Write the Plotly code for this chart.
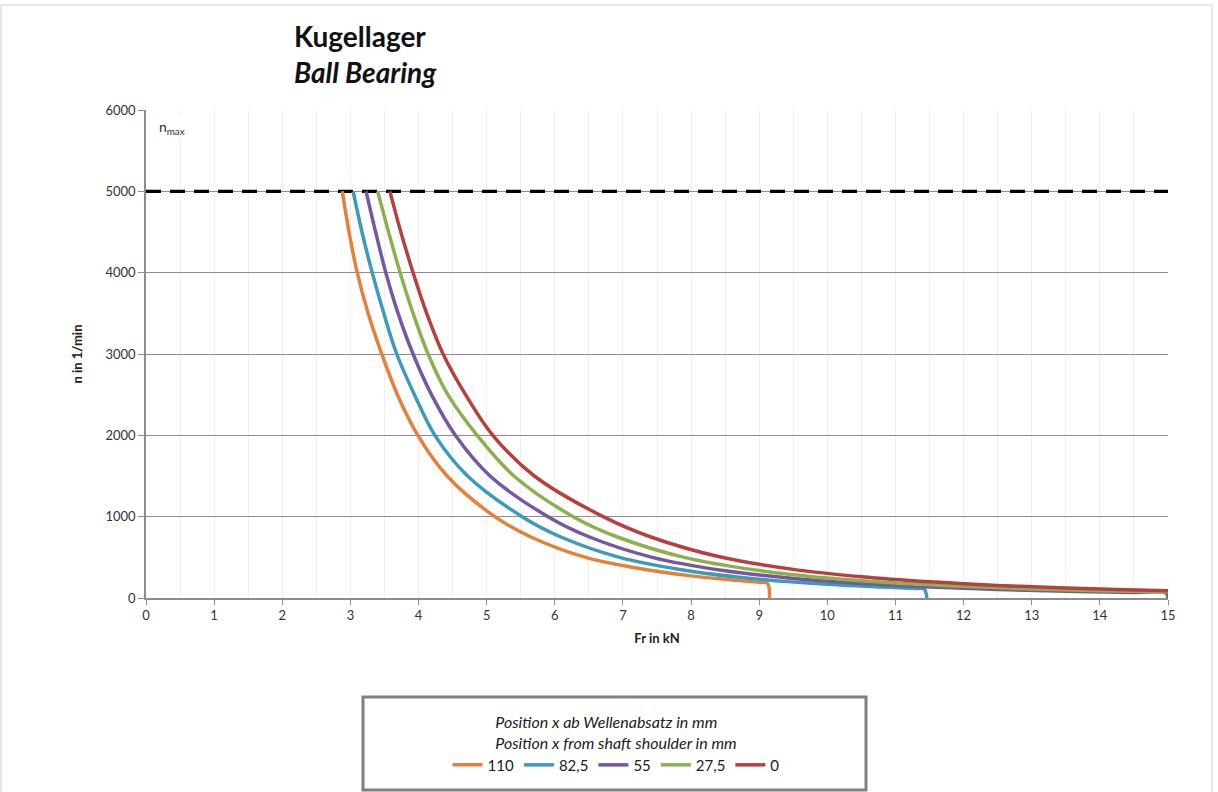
import plotly.graph_objects as go

W, H = 1218, 792
L, R, T, B = 146, 50, 110, 194
PW, PH = W - L - R, H - T - B

def px(x):
    return (x - L) / PW

def py(y):
    return (H - B - y) / PH

# ---- data ----
series_names = ["110", "82,5", "55", "27,5", "0"]
series_colors = ["#E3803A", "#3C9BB8", "#7558A0", "#8DB04F", "#B5413F"]

fr_110 = [2.88, 2.98, 3.10, 3.26, 3.46, 3.69, 3.99, 4.42, 5.12, 5.65, 6.45, 7.20, 8.00, 8.60, 9.00, 9.12, 9.15]
n_110 = [5000, 4500, 4000, 3500, 3000, 2500, 2000, 1500, 1000, 750, 500, 370, 272, 222, 192, 182, 0]

fr_825 = [3.04, 3.17, 3.32, 3.49, 3.68, 3.94, 4.24, 4.72, 5.52, 6.09, 6.95, 8.00, 9.00, 10.00, 10.80, 11.30, 11.42, 11.46]
n_825 = [5000, 4500, 4000, 3500, 3000, 2500, 2000, 1500, 1000, 750, 500, 329, 231, 168, 134, 117, 112, 0]

fr_55 = [3.23, 3.37, 3.52, 3.70, 3.92, 4.19, 4.54, 5.05, 5.90, 6.51, 7.43, 8.50, 9.50, 10.50, 11.50, 12.50, 13.50, 14.50, 14.97, 15.00]
n_55 = [5000, 4500, 4000, 3500, 3000, 2500, 2000, 1500, 1000, 750, 500, 334, 240, 177, 135, 105, 83, 67, 61, 0]

fr_275 = [3.40, 3.56, 3.73, 3.92, 4.14, 4.43, 4.86, 5.40, 6.27, 6.92, 7.90, 9.00, 10.00, 11.00, 12.00, 13.00, 14.00, 15.00]
n_275 = [5000, 4500, 4000, 3500, 3000, 2500, 2000, 1500, 1000, 750, 500, 338, 246, 185, 143, 112, 90, 73]

fr_0 = [3.58, 3.74, 3.92, 4.12, 4.36, 4.69, 5.09, 5.70, 6.71, 7.41, 8.45, 9.50, 10.50, 11.50, 12.50, 13.50, 14.25, 15.00]
n_0 = [5000, 4500, 4000, 3500, 3000, 2500, 2000, 1500, 1000, 750, 500, 352, 261, 199, 155, 123, 104, 90]

nmax_x = [0, 15]
nmax_y = [5000, 5000]

x_ticks = list(range(0, 16))
y_ticks = [0, 1000, 2000, 3000, 4000, 5000, 6000]

series_x = [fr_110, fr_825, fr_55, fr_275, fr_0]
series_y = [n_110, n_825, n_55, n_275, n_0]

FONT = "Lato"

fig = go.Figure()

fig.add_trace(go.Scatter(x=nmax_x, y=nmax_y, mode="lines",
                         line=dict(color="black", width=3.2, dash="15px,9px"),
                         showlegend=False, hoverinfo="skip"))

for name, col, xs, ys in zip(series_names, series_colors, series_x, series_y):
    fig.add_trace(go.Scatter(x=xs, y=ys, mode="lines", name=name,
                             line=dict(color=col, width=3.5, shape="spline", smoothing=1.0)))

fig.update_layout(
    width=W, height=H,
    margin=dict(l=L, r=R, t=T, b=B, autoexpand=False),
    paper_bgcolor="white", plot_bgcolor="white",
    font=dict(family=FONT, size=13, color="#404040"),
    xaxis=dict(range=[0, 15], tickvals=x_ticks, ticktext=[str(v) for v in x_ticks],
               showline=True, linecolor="#8c8c8c", linewidth=1.5,
               ticks="outside", ticklen=5, tickcolor="#8c8c8c",
               showgrid=True, gridcolor="#f1f1e9", gridwidth=1,
               minor=dict(dtick=0.5, showgrid=True, gridcolor="#f1f1e9", ticks=""),
               zeroline=False, tickfont=dict(size=13, color="#333333"),
               title=dict(text="<b>Fr in kN</b>", font=dict(size=13, color="#202020"), standoff=12)),
    yaxis=dict(range=[0, 6000], tickvals=y_ticks, ticktext=[str(v) for v in y_ticks],
               showline=True, linecolor="#8c8c8c", linewidth=1.5,
               ticks="outside", ticklen=6, tickcolor="#8c8c8c",
               showgrid=True, gridcolor="#8c8c8c", gridwidth=1,
               zeroline=False, tickfont=dict(size=13, color="#333333"),
               title=dict(text="<b>n in 1/min</b>", font=dict(size=13, color="#202020"), standoff=20)),
    legend=dict(orientation="h", x=px(616), xanchor="center", y=py(707), yanchor="top",
                bgcolor="rgba(0,0,0,0)", borderwidth=0,
                font=dict(size=15, color="#202020", family=FONT),
                title=dict(text="<i>Position x ab Wellenabsatz in mm</i><br><i>Position x from shaft shoulder in mm</i>",
                           side="top center", font=dict(size=16, color="#202020", family=FONT)),
                itemwidth=30, tracegroupgap=0),
    showlegend=True,
)

# legend frame
fig.add_shape(type="rect", xref="paper", yref="paper",
              x0=px(363), x1=px(866), y0=py(697), y1=py(790),
              line=dict(color="#808080", width=3), fillcolor="white", layer="below")
# outer chart border
fig.add_shape(type="rect", xref="paper", yref="paper",
              x0=px(1), x1=px(1212), y0=py(5), y1=py(805),
              line=dict(color="#d0d0d0", width=1), layer="below")

# titles
fig.add_annotation(xref="paper", yref="paper", x=px(292), y=py(36), xanchor="left", yanchor="middle",
                   text="<b>Kugellager</b>", showarrow=False,
                   font=dict(size=28, color="#111111", family=FONT))
fig.add_annotation(xref="paper", yref="paper", x=px(292), y=py(72), xanchor="left", yanchor="middle",
                   text="<b><i>Ball Bearing</i></b>", showarrow=False,
                   font=dict(size=28, color="#111111", family=FONT))
# n_max label
fig.add_annotation(xref="paper", yref="paper", x=px(157), y=py(127), xanchor="left", yanchor="middle",
                   text="n<sub>max</sub>", showarrow=False, bgcolor="white",
                   font=dict(size=14, color="#303030", family=FONT))

fig.write_html("out.html")
